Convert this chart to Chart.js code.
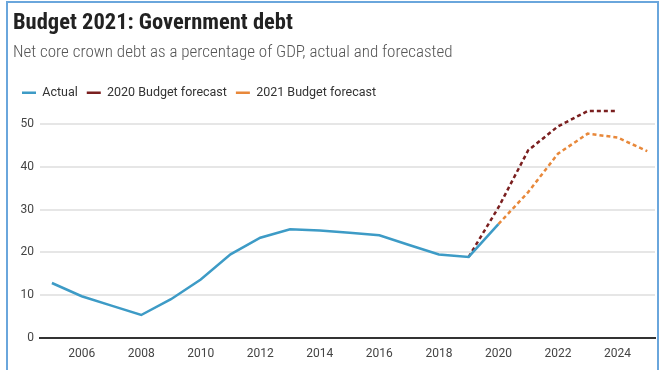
<!DOCTYPE html>
<html>
<head>
<meta charset="utf-8">
<script src="https://cdn.jsdelivr.net/npm/chart.js@4"></script>
<style>
html,body{margin:0;padding:0;background:#fff;}
#wrap{position:relative;width:665px;height:370px;overflow:hidden;}
#frame{position:absolute;left:6px;top:1px;width:649px;height:400px;border:2px solid #6aa6dc;border-bottom:none;}
canvas{position:absolute;left:0;top:0;}
</style>
</head>
<body>
<div id="wrap"><div id="frame"></div><canvas id="c" width="665" height="370"></canvas></div>
<script>
const years = [2005,2006,2007,2008,2009,2010,2011,2012,2013,2014,2015,2016,2017,2018,2019,2020];
const actual = [12.8,9.7,7.5,5.3,9.0,13.6,19.5,23.4,25.4,25.1,24.6,24.0,21.7,19.5,18.9,26.6];
const forecastYears2020 = [2019,2020,2021,2022,2023,2024];
const forecast2020 = [18.9,30.5,43.9,49.5,53.1,53.1];
const forecastYears2021 = [2020,2021,2022,2023,2024,2025];
const forecast2021 = [26.6,34.1,43.1,47.8,46.9,43.7];
const xTickLabels = [2006,2008,2010,2012,2014,2016,2018,2020,2022,2024];
const yTickLabels = [0,10,20,30,40,50];

const pts = (xs, ys) => xs.map((x,i)=>({x:x,y:ys[i]}));
const FONT = "Roboto, 'Noto Sans', sans-serif";
const COND = "'Roboto Condensed','Liberation Sans Narrow',Roboto,sans-serif";

new Chart(document.getElementById('c'), {
  type: 'line',
  data: {
    datasets: [
      {label:'Actual', data: pts(years, actual), borderColor:'#3d9bc6', backgroundColor:'#3d9bc6', borderWidth:2.5, pointRadius:0, tension:0},
      {label:'2020 Budget forecast', data: pts(forecastYears2020, forecast2020), borderColor:'#7a1f1f', backgroundColor:'#7a1f1f', borderWidth:2.5, borderDash:[4,3], pointRadius:0, tension:0},
      {label:'2021 Budget forecast', data: pts(forecastYears2021, forecast2021), borderColor:'#e8883a', backgroundColor:'#e8883a', borderWidth:2.5, borderDash:[4,3], pointRadius:0, tension:0}
    ]
  },
  options: {
    responsive:false,
    animation:false,
    devicePixelRatio:1,
    clip:false,
    layout:{padding:{left:13,right:10,top:0,bottom:0}},
    plugins:{
      title:{display:true, text:'Budget 2021: Government debt', align:'start', color:'#222',
        font:{family:COND, size:22.5, weight:'bold'}, padding:{top:10,bottom:2}},
      subtitle:{display:true, text:'Net core crown debt as a percentage of GDP, actual and forecasted', align:'start', color:'#555',
        font:{family:COND, size:17, weight:'300'}, padding:{top:4,bottom:14}},
      legend:{display:true, align:'start', labels:{usePointStyle:true, pointStyle:'line', pointStyleWidth:14, boxHeight:10, color:'#333', font:{family:FONT,size:12.5}, padding:9}},
      tooltip:{enabled:false}
    },
    scales:{
      x:{type:'linear', min:2004.6, max:2025.26,
        afterBuildTicks: s => { s.ticks = xTickLabels.map(v=>({value:v})); },
        grid:{display:false, drawTicks:false},
        border:{display:true, color:'#333', width:2},
        ticks:{color:'#444', font:{family:FONT,size:12}, padding:9, maxRotation:0, autoSkip:false, callback:v=>String(v)}
      },
      y:{min:0, max:53.6,
        afterBuildTicks: s => { s.ticks = yTickLabels.map(v=>({value:v})); },
        afterFit: s => { s.width = 27; },
        grid:{color:'#e6e6e6', lineWidth:2, drawTicks:false},
        border:{display:false},
        ticks:{color:'#444', font:{family:FONT,size:12}, padding:6}
      }
    }
  }
});
</script>
</body>
</html>
